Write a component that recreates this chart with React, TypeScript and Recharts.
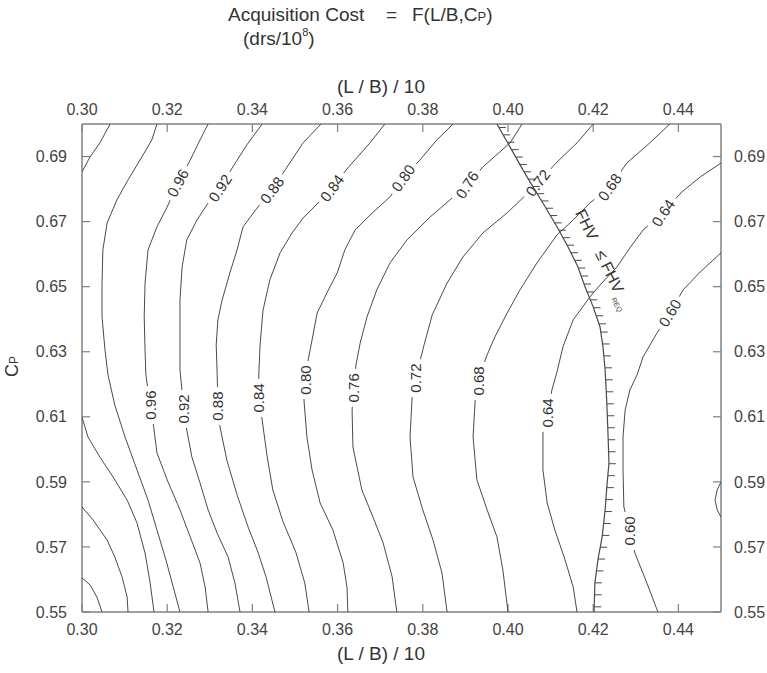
import React from 'react'
import { ScatterChart, Scatter, XAxis, YAxis } from 'recharts'

const FONT = "'Liberation Sans', Arial, Helvetica, sans-serif"
const LINE = '#4a4a4a'
const FRAME = '#808080'
const TEXT = '#333'

const X_TICKS = [0.3, 0.32, 0.34, 0.36, 0.38, 0.4, 0.42, 0.44]
const Y_TICKS = [0.55, 0.57, 0.59, 0.61, 0.63, 0.65, 0.67, 0.69]

// contour lines, [L/B/10, Cp]
const C112 = [[0.3, 0.5605], [0.3019, 0.5583], [0.3035, 0.5546], [0.3047, 0.55]]
const C108 = [[0.3, 0.5823], [0.3026, 0.5783], [0.3059, 0.5721], [0.3077, 0.5669], [0.3094, 0.5608], [0.3106, 0.5546], [0.3108, 0.55]]
const C104_LOW = [[0.3, 0.6099], [0.3014, 0.6038], [0.3042, 0.5976], [0.3073, 0.5915], [0.3106, 0.5844], [0.3129, 0.5774], [0.3148, 0.5681], [0.316, 0.5589], [0.3169, 0.55]]
const C104_TOP = [[0.3, 0.6853], [0.3019, 0.6899], [0.3042, 0.6942], [0.3066, 0.7]]
const C100 = [[0.3176, 0.7], [0.3164, 0.6951], [0.3136, 0.6889], [0.3108, 0.6828], [0.3082, 0.6767], [0.3059, 0.6696], [0.3049, 0.6613], [0.3047, 0.6511], [0.3047, 0.6407], [0.3054, 0.6305], [0.3061, 0.6229], [0.3077, 0.6136], [0.3101, 0.6038], [0.3129, 0.5937], [0.3155, 0.5844], [0.3176, 0.5752], [0.3197, 0.566], [0.3216, 0.5568], [0.323, 0.55]]
const C096 = [[0.3296, 0.7], [0.3277, 0.6951], [0.3254, 0.6889], [0.3225, 0.6819], [0.32, 0.6745], [0.3176, 0.6684], [0.3155, 0.6613], [0.3148, 0.6511], [0.3146, 0.6407], [0.3148, 0.6305], [0.315, 0.6229], [0.316, 0.6136], [0.3167, 0.6081], [0.3176, 0.5989], [0.32, 0.5906], [0.323, 0.5814], [0.3254, 0.5731], [0.3277, 0.5651], [0.3289, 0.5577], [0.3296, 0.55]]
const C092 = [[0.3423, 0.7], [0.3387, 0.6936], [0.3354, 0.6868], [0.3324, 0.6803], [0.3296, 0.6757], [0.327, 0.6705], [0.3246, 0.6644], [0.3235, 0.6561], [0.323, 0.6459], [0.323, 0.6358], [0.323, 0.6244], [0.3239, 0.6124], [0.3246, 0.6059], [0.3258, 0.5976], [0.3277, 0.5897], [0.3296, 0.5814], [0.3317, 0.5743], [0.3343, 0.5669], [0.3359, 0.5589], [0.3371, 0.55]]
const C088 = [[0.3561, 0.7], [0.3519, 0.6942], [0.3477, 0.6859], [0.3446, 0.6797], [0.3413, 0.6745], [0.3378, 0.6684], [0.3364, 0.6613], [0.3347, 0.6542], [0.3329, 0.6459], [0.3319, 0.6398], [0.3315, 0.6321], [0.3317, 0.6244], [0.3319, 0.6133], [0.3324, 0.6069], [0.334, 0.5967], [0.3364, 0.586], [0.339, 0.5761], [0.3413, 0.5684], [0.3432, 0.5608], [0.3444, 0.5546], [0.3453, 0.55]]
const C084 = [[0.3711, 0.7], [0.3676, 0.6942], [0.3624, 0.6865], [0.3587, 0.6803], [0.3554, 0.6757], [0.3519, 0.6711], [0.3493, 0.6665], [0.3465, 0.6604], [0.3441, 0.6521], [0.3425, 0.6428], [0.3418, 0.6321], [0.3415, 0.6229], [0.3415, 0.6158], [0.3423, 0.609], [0.3434, 0.5983], [0.3448, 0.5875], [0.3472, 0.5777], [0.3502, 0.5684], [0.3523, 0.5589], [0.3533, 0.55]]
const C080 = [[0.3871, 0.7], [0.3833, 0.6951], [0.3793, 0.6889], [0.3754, 0.6834], [0.3723, 0.6776], [0.3676, 0.672], [0.3641, 0.6674], [0.3617, 0.6613], [0.3599, 0.6542], [0.3575, 0.6481], [0.3552, 0.6419], [0.354, 0.6336], [0.3531, 0.6275], [0.3526, 0.6213], [0.3521, 0.6152], [0.3528, 0.6038], [0.354, 0.5937], [0.3559, 0.5835], [0.3589, 0.5752], [0.3613, 0.5651], [0.3622, 0.5577], [0.3624, 0.55]]
const C076 = [[0.4033, 0.7], [0.4005, 0.6942], [0.3941, 0.6868], [0.3904, 0.6813], [0.3864, 0.6767], [0.3817, 0.6714], [0.3763, 0.6644], [0.3723, 0.6573], [0.3692, 0.649], [0.3669, 0.6407], [0.3653, 0.6327], [0.3643, 0.6259], [0.3638, 0.6189], [0.3634, 0.6121], [0.3636, 0.6007], [0.3657, 0.5875], [0.3683, 0.5792], [0.3707, 0.5712], [0.3728, 0.5608], [0.3739, 0.55]]
const C072 = [[0.42, 0.7], [0.4162, 0.6942], [0.4115, 0.6883], [0.407, 0.6819], [0.4035, 0.6773], [0.3998, 0.6727], [0.3941, 0.6665], [0.3894, 0.6591], [0.3857, 0.6511], [0.3822, 0.6413], [0.3803, 0.6321], [0.3793, 0.6269], [0.3784, 0.6219], [0.3775, 0.6161], [0.377, 0.6038], [0.3777, 0.5915], [0.38, 0.5814], [0.3824, 0.5721], [0.3845, 0.562], [0.3857, 0.55]]
const C068 = [[0.438, 0.7], [0.4333, 0.6942], [0.4279, 0.688], [0.4239, 0.6806], [0.4192, 0.6757], [0.4153, 0.6705], [0.4115, 0.6659], [0.4068, 0.6573], [0.4028, 0.649], [0.3998, 0.6419], [0.3969, 0.6345], [0.3948, 0.6281], [0.3932, 0.621], [0.3923, 0.6152], [0.3918, 0.6038], [0.3927, 0.5906], [0.3951, 0.5814], [0.3974, 0.5731], [0.3988, 0.5629], [0.4, 0.55]]
const C064 = [[0.45, 0.688], [0.4451, 0.6837], [0.4408, 0.6791], [0.4364, 0.6727], [0.4317, 0.6674], [0.4286, 0.6619], [0.4256, 0.6561], [0.4216, 0.6505], [0.4192, 0.6468], [0.4153, 0.6398], [0.4129, 0.6315], [0.4115, 0.6238], [0.4103, 0.6182], [0.4094, 0.6112], [0.4082, 0.605], [0.4082, 0.5937], [0.4092, 0.5835], [0.411, 0.5752], [0.4134, 0.566], [0.4153, 0.5577], [0.4162, 0.55]]
const C060 = [[0.45, 0.6604], [0.4451, 0.6545], [0.4411, 0.649], [0.438, 0.6419], [0.435, 0.6358], [0.4317, 0.6284], [0.4303, 0.6229], [0.4286, 0.6182], [0.4275, 0.6121], [0.427, 0.6038], [0.427, 0.5937], [0.4272, 0.5823], [0.4286, 0.5749], [0.4298, 0.5681], [0.4326, 0.5589], [0.4352, 0.55]]
const C056 = [[0.45, 0.59], [0.4491, 0.5875], [0.4486, 0.5844], [0.4491, 0.5814], [0.45, 0.5792]]

// FHV <= FHV_REQ boundary
const FHV_LIMIT = [[0.3974, 0.7], [0.4005, 0.6929], [0.4035, 0.6859], [0.4059, 0.6806], [0.4082, 0.6757], [0.4115, 0.6684], [0.4141, 0.6622], [0.4164, 0.6561], [0.4181, 0.6499], [0.42, 0.6438], [0.4216, 0.6376], [0.4223, 0.6315], [0.4228, 0.6244], [0.4232, 0.6142], [0.4235, 0.6038], [0.4237, 0.5958], [0.4232, 0.5884], [0.4228, 0.5814], [0.4221, 0.5731], [0.4211, 0.566], [0.4204, 0.5589], [0.4202, 0.55]]

// contour labels: x, y, text, angle
const LABELS: [number, number, string, number][] = [
  [0.3225, 0.6819, '0.96', -62],
  [0.3324, 0.6803, '0.92', -57],
  [0.3446, 0.6797, '0.88', -54],
  [0.3587, 0.6803, '0.84', -54],
  [0.3754, 0.6834, '0.80', -55],
  [0.3904, 0.6813, '0.76', -57],
  [0.407, 0.6819, '0.72', -52],
  [0.4239, 0.6806, '0.68', -55],
  [0.4364, 0.6727, '0.64', -56],
  [0.438, 0.6419, '0.60', -59],
  [0.316, 0.6136, '0.96', -90],
  [0.3239, 0.6124, '0.92', -90],
  [0.3319, 0.6133, '0.88', -90],
  [0.3415, 0.6158, '0.84', -90],
  [0.3526, 0.6213, '0.80', -90],
  [0.3638, 0.6189, '0.76', -90],
  [0.3784, 0.6219, '0.72', -90],
  [0.3932, 0.621, '0.68', -90],
  [0.4094, 0.6112, '0.64', -90],
  [0.4286, 0.5749, '0.60', -90],
]

const FHV_LABEL = [{ x: 0.4225, y: 0.6585 }]

const CONTOURS = [C112, C108, C104_LOW, C104_TOP, C100, C096, C092, C088, C084, C080, C076, C072, C068, C064, C060, C056]

const toPts = (a: number[][]) => a.map(([x, y]) => ({ x, y }))

const NoDot = () => <g />

const ContourLabel = (props: any) => {
  const { cx, cy, payload } = props
  return (
    <g transform={`translate(${cx},${cy}) rotate(${payload.angle})`}>
      <rect x={-19} y={-6} width={38} height={12} fill="#fff" />
      <text textAnchor="middle" dy="0.36em" fontSize={15} fontFamily={FONT} fill={TEXT}>
        {payload.text}
      </text>
    </g>
  )
}

const FhvText = (props: any) => {
  const { cx, cy } = props
  return (
    <g transform={`translate(${cx},${cy}) rotate(64)`}>
      <text textAnchor="middle" dy="0.36em" fontSize={16} fontFamily={FONT} fill={TEXT}>
        {'FHV\u00a0\u00a0\u00a0\u2264 FHV'}
        <tspan fontSize={7} dy={5} dx={3}>REQ</tspan>
      </text>
    </g>
  )
}

// boundary with short hatches on the allowed side
const HatchedLine = (props: any) => {
  const p = (props.points || []) as { x: number; y: number }[]
  if (p.length < 2) return <g />
  const d = p.map((q, i) => `${i ? 'L' : 'M'}${q.x},${q.y}`).join('')
  const hatches: string[] = []
  let s = 4
  for (let i = 1; i < p.length; i++) {
    const a = p[i - 1]
    const b = p[i]
    const len = Math.hypot(b.x - a.x, b.y - a.y)
    while (s < len) {
      const t = s / len
      const y = a.y + (b.y - a.y) * t
      hatches.push(`M${a.x + (b.x - a.x) * t},${y}h7`)
      // denser along the slanted upper part, wider on the lower straight part
      s += y < 330 ? 8.5 : 12
    }
    s -= len
  }
  return (
    <g>
      <path d={d} fill="none" stroke={LINE} strokeWidth={1.2} />
      <path d={hatches.join('')} fill="none" stroke={LINE} strokeWidth={1} />
    </g>
  )
}

const tickStyle = { fill: '#444', fontSize: 16, fontFamily: FONT }
const axisLine = { stroke: FRAME, strokeWidth: 1.5 }
const tickLine = { stroke: FRAME, strokeWidth: 1.2 }
const fmt = (v: number) => v.toFixed(2)

export default function App() {
  const labelData = LABELS.map(([x, y, text, angle]) => ({ x, y, text, angle }))
  return (
    <div style={{ position: 'absolute', left: 0, top: 0, width: 767, height: 673, background: '#fff' }}>
      <ScatterChart width={767} height={673} margin={{ top: 94, right: 6, bottom: 31, left: 42 }}>
        <XAxis xAxisId="b" type="number" dataKey="x" domain={[0.3, 0.45]} allowDataOverflow ticks={X_TICKS}
          interval={0} orientation="bottom" height={30} tickSize={-8} tickMargin={20} tickFormatter={fmt}
          axisLine={axisLine} tickLine={tickLine} tick={tickStyle} />
        <XAxis xAxisId="t" type="number" dataKey="x" domain={[0.3, 0.45]} allowDataOverflow ticks={X_TICKS}
          interval={0} orientation="top" height={30} tickSize={-8} tickMargin={17} tickFormatter={fmt}
          axisLine={axisLine} tickLine={tickLine} tick={tickStyle} />
        <YAxis yAxisId="l" type="number" dataKey="y" domain={[0.55, 0.7]} allowDataOverflow ticks={Y_TICKS}
          interval={0} orientation="left" width={40} tickSize={-8} tickMargin={23} tickFormatter={fmt}
          axisLine={axisLine} tickLine={tickLine} tick={tickStyle} />
        <YAxis yAxisId="r" type="number" dataKey="y" domain={[0.55, 0.7]} allowDataOverflow ticks={Y_TICKS}
          interval={0} orientation="right" width={40} tickSize={-8} tickMargin={21} tickFormatter={fmt}
          axisLine={axisLine} tickLine={tickLine} tick={tickStyle} />
        {CONTOURS.map((c, i) => (
          <Scatter key={i} data={toPts(c)} xAxisId="b" yAxisId="l" line={{ stroke: LINE, strokeWidth: 1 }}
            lineType="joint" shape={NoDot} isAnimationActive={false} />
        ))}
        <Scatter data={labelData} xAxisId="t" yAxisId="r" shape={ContourLabel} isAnimationActive={false} />
        <Scatter data={toPts(FHV_LIMIT)} xAxisId="b" yAxisId="l" line={HatchedLine} lineType="joint"
          shape={NoDot} isAnimationActive={false} />
        <Scatter data={FHV_LABEL} xAxisId="t" yAxisId="r" shape={FhvText} isAnimationActive={false} />
      </ScatterChart>
      <svg width={767} height={673} style={{ position: 'absolute', left: 0, top: 0, pointerEvents: 'none' }}
        fontFamily={FONT} fill={TEXT}>
        <text x={228} y={21} fontSize={19}>Acquisition Cost</text>
        <text x={386} y={21} fontSize={19}>=</text>
        <text x={412} y={21} fontSize={19}>F(L/B,C<tspan fontSize={13}>P</tspan>)</text>
        <text x={243} y={45} fontSize={19}>(drs/10<tspan fontSize={11} dy={-9}>8</tspan><tspan dy={9}>)</tspan></text>
        <text x={381} y={93} fontSize={19} textAnchor="middle">(L / B) / 10</text>
        <text x={381} y={660} fontSize={19} textAnchor="middle">(L / B) / 10</text>
        <text x={18} y={377} fontSize={18} transform="rotate(-90 18 377)">C<tspan fontSize={12}>P</tspan></text>
      </svg>
    </div>
  )
}
